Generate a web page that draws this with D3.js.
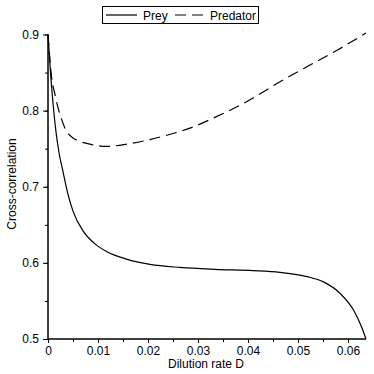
<!DOCTYPE html>
<html><head><meta charset="utf-8">
<script src="https://cdn.jsdelivr.net/npm/d3@7"></script>
<style>body{margin:0;background:#fff}svg{display:block}text{font-family:"Liberation Sans",Arial,sans-serif}</style>
</head><body>
<svg id="c" width="374" height="374"></svg>
<script>
const preyD = [0,0.0005,0.001,0.0016,0.0022,0.003,0.004,0.005,0.007,0.0094,0.0117,0.0157,0.0204,0.0264,0.0334,0.041,0.0464,0.0518,0.0551,0.0584,0.0611,0.0627,0.0636];
const preyV = [0.9,0.85,0.81,0.772,0.745,0.72,0.69,0.668,0.642,0.625,0.615,0.605,0.598,0.594,0.5915,0.5898,0.5875,0.582,0.575,0.560,0.538,0.516,0.5];
const predD = [0,0.0007,0.0014,0.0034,0.005,0.0084,0.0118,0.0158,0.0204,0.025,0.0284,0.033,0.0398,0.0464,0.053,0.058,0.0636];
const predV = [0.9,0.845,0.821,0.777,0.764,0.756,0.753,0.756,0.762,0.770,0.777,0.79,0.812,0.838,0.862,0.88,0.902];
const xTicks = [0,0.01,0.02,0.03,0.04,0.05,0.06];
const yTicks = [0.5,0.6,0.7,0.8,0.9];
const seriesNames = ["Prey","Predator"];

const svg = d3.select("#c");
const x = d3.scaleLinear().domain([0,0.0636]).range([48,366]);
const y = d3.scaleLinear().domain([0.5,0.9]).range([339,34.5]);

const xMinor = d3.range(0,0.0631,0.005);
const yMinor = d3.range(0.5,0.901,0.05);
const gx = svg.append("g").attr("transform","translate(0,339)");
gx.call(d3.axisBottom(x).tickValues(xMinor).tickSize(3).tickFormat(""));
gx.append("g").call(d3.axisBottom(x).tickValues(xTicks).tickSize(4).tickPadding(3).tickFormat(d=>d3.format("~g")(d)));
gx.selectAll("path.domain").attr("d","M48,0H366").attr("stroke","#000");
gx.selectAll("text").attr("font-size",12).attr("fill","#000");
const gy = svg.append("g").attr("transform","translate(48,0)");
gy.call(d3.axisLeft(y).tickValues(yMinor).tickSize(3).tickFormat(""));
gy.append("g").call(d3.axisLeft(y).tickValues(yTicks).tickSize(5).tickPadding(4).tickFormat(d3.format(".1f")));
gy.selectAll("path.domain").attr("d","M0,34.5V339").attr("stroke","#000");
gy.selectAll("text").attr("font-size",12).attr("fill","#000");
svg.selectAll(".tick line").attr("stroke","#000");

svg.append("text").attr("x",206).attr("y",367.5).attr("text-anchor","middle").attr("font-size",12).text("Dilution rate D");
svg.append("text").attr("transform","translate(15.5,184) rotate(-90)").attr("text-anchor","middle").attr("font-size",12).text("Cross-correlation");

const line = d3.line().x(d=>x(d[0])).y(d=>y(d[1])).curve(d3.curveMonotoneX);
svg.append("path").datum(preyD.map((d,i)=>[d,preyV[i]])).attr("d",line).attr("fill","none").attr("stroke","#000").attr("stroke-width",1.2);
svg.append("path").datum(predD.map((d,i)=>[d,predV[i]])).attr("d",line).attr("fill","none").attr("stroke","#000").attr("stroke-width",1.2).attr("stroke-dasharray","11,6");

const lg = svg.append("g");
lg.append("rect").attr("x",102.5).attr("y",6.5).attr("width",156).attr("height",17).attr("fill","#fff").attr("stroke","#000");
lg.append("line").attr("x1",106).attr("x2",137).attr("y1",15).attr("y2",15).attr("stroke","#000").attr("stroke-width",1.2);
lg.append("text").attr("x",143).attr("y",19.5).attr("font-size",12).text(seriesNames[0]);
lg.append("line").attr("x1",175).attr("x2",205).attr("y1",15).attr("y2",15).attr("stroke","#000").attr("stroke-width",1.2).attr("stroke-dasharray","11,6");
lg.append("text").attr("x",210).attr("y",19.5).attr("font-size",12).text(seriesNames[1]);
</script>
</body></html>
